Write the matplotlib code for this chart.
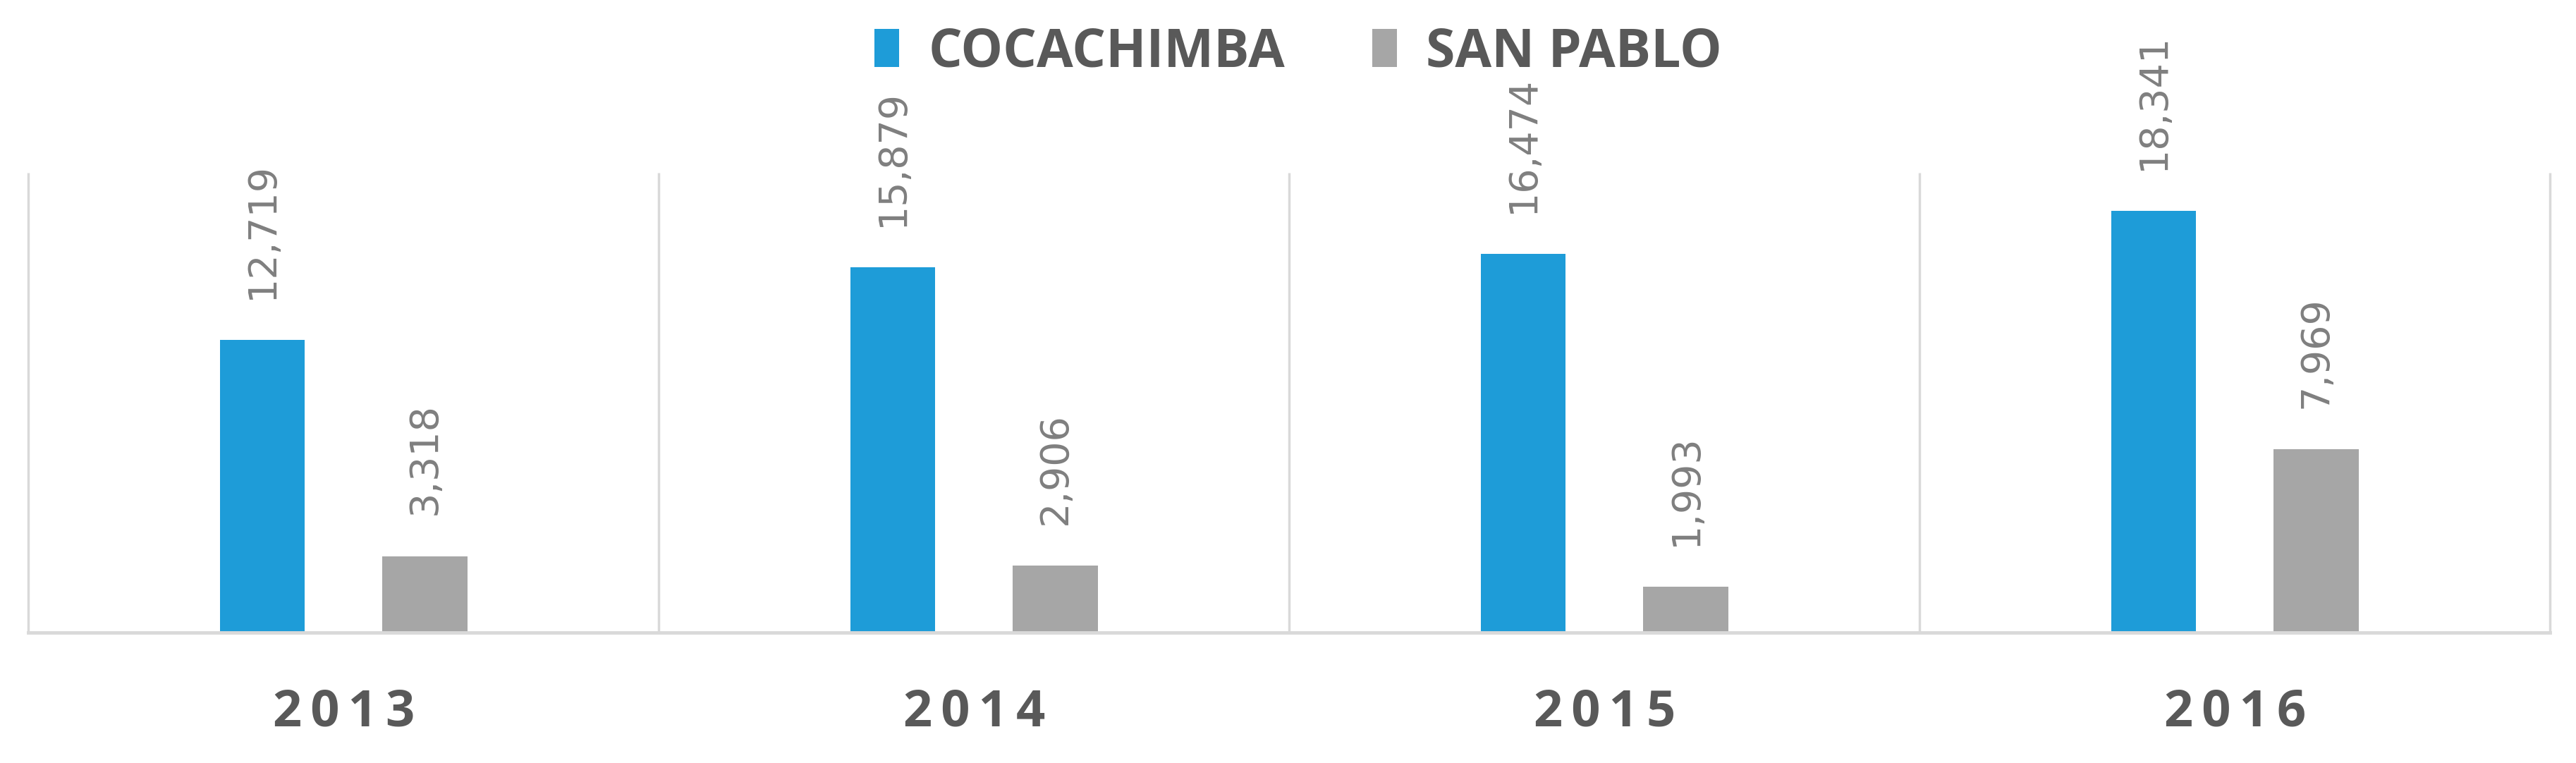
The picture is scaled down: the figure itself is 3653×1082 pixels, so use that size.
import matplotlib
matplotlib.use("Agg")
import matplotlib.pyplot as plt
import numpy as np

years = ["2013", "2014", "2015", "2016"]
series_names = ["COCACHIMBA", "SAN PABLO"]
cocachimba = [12719, 15879, 16474, 18341]
san_pablo = [3318, 2906, 1993, 7969]

colors = ["#1E9CD8", "#A6A6A6"]
label_color = "#7F7F7F"
text_color = "#595959"
line_color = "#D9D9D9"

fig = plt.figure(figsize=(36.53, 10.82), dpi=100)
ax = fig.add_axes([0.011, 0.171, 0.979, 0.6026])

x = np.arange(len(years))
width = 0.135
offset = 0.129
values = [cocachimba, san_pablo]
handles = []
for i, (name, vals) in enumerate(zip(series_names, values)):
    pos = x + (i * 2 - 1) * offset
    bars = ax.bar(pos, vals, width=width, color=colors[i], label=name, zorder=3)
    handles.append(bars)
    for b, v in zip(bars, vals):
        ax.annotate(f"{v:,}", (b.get_x() + b.get_width() / 2, b.get_height()),
                    xytext=(0, 42), textcoords="offset points",
                    rotation=90, ha="center", va="bottom",
                    fontsize=40, color=label_color, family="DejaVu Sans",
                    annotation_clip=False, clip_on=False)

ax.set_xlim(-0.5, len(years) - 0.5)
ax.set_ylim(0, 20000)

# category separators
bounds = np.arange(len(years) + 1) - 0.5
ax.vlines(bounds, 0, 20000, colors=line_color, linewidth=2.5, zorder=1, clip_on=False)

for s in ["left", "top", "right"]:
    ax.spines[s].set_visible(False)
ax.spines["bottom"].set_color(line_color)
ax.spines["bottom"].set_linewidth(3.5)
ax.spines["bottom"].set_zorder(4)

ax.set_yticks([])
ax.set_xticks(x)
ax.set_xticklabels(["\u2006".join(y) for y in years],
                   fontsize=52, fontweight="bold", color=text_color,
                   family=["Open Sans", "DejaVu Sans"])
ax.tick_params(axis="x", length=0, pad=56)

leg = fig.legend(handles=handles, labels=series_names, loc="center",
                 bbox_to_anchor=(0.504, 0.931), ncol=2, frameon=False,
                 prop={"family": "Open Sans", "weight": "bold", "size": 54},
                 handlelength=0.47, handleheight=0.75, handletextpad=0.55,
                 columnspacing=1.65, labelcolor=text_color)

fig.savefig("out.png", dpi=100, facecolor="white")
